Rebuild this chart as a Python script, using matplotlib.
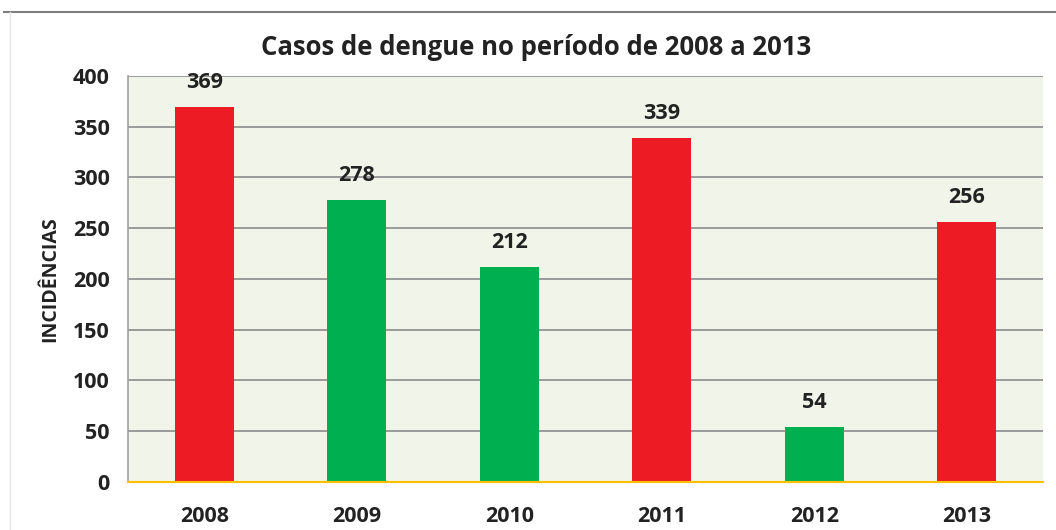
import matplotlib.pyplot as plt
from matplotlib.lines import Line2D

anos = ['2008', '2009', '2010', '2011', '2012', '2013']
casos = [369, 278, 212, 339, 54, 256]
cores = ['#ED1C24', '#00B050', '#00B050', '#ED1C24', '#00B050', '#ED1C24']

plt.rcParams['font.family'] = ['Open Sans', 'DejaVu Sans']

fig = plt.figure(figsize=(10.56, 5.3), dpi=100)
ax = fig.add_axes([0.1212, 0.0906, 0.8665, 0.766])
ax.set_facecolor('#F1F5E9')

x = range(len(anos))
bars = ax.bar(x, casos, width=0.39, color=cores, zorder=3)
for b, v in zip(bars, casos):
    ax.text(b.get_x() + b.get_width() / 2, v + 14, str(v), ha='center', va='bottom',
            fontsize=15.5, fontweight='bold', color='#222222', zorder=4)

ax.set_xlim(-0.5, len(anos) - 0.5)
ax.set_ylim(0, 400)
ax.set_yticks(range(0, 401, 50))
ax.set_xticks(list(x))
ax.set_xticklabels(anos)
ax.yaxis.grid(True, color='#8C8C8C', linewidth=1.2, zorder=0)
ax.tick_params(axis='both', length=0, labelsize=15.5, colors='#222222')
ax.tick_params(axis='x', pad=17)
ax.tick_params(axis='y', pad=13)
for lab in ax.get_xticklabels() + ax.get_yticklabels():
    lab.set_fontweight('bold')

for s in ['top', 'right']:
    ax.spines[s].set_visible(False)
ax.spines['left'].set_color('#A0A0A0')
ax.spines['left'].set_linewidth(1.2)
ax.spines['bottom'].set_color('#FFC000')
ax.spines['bottom'].set_linewidth(1.5)
ax.spines['bottom'].set_zorder(5)

ax.set_ylabel('INCIDÊNCIAS', fontsize=14, fontweight='bold', color='#222222', labelpad=9)
fig.text(0.508, 0.91, 'Casos de dengue no período de 2008 a 2013', ha='center', va='center',
         fontsize=18.5, fontweight='bold', color='#222222')

# moldura do gráfico
fig.add_artist(Line2D([0.004, 1.0], [0.977, 0.977], color='#7F7F7F', linewidth=1.5))
fig.add_artist(Line2D([0.009, 0.009], [0.0, 0.977], color='#E6E6E6', linewidth=1.0))

fig.savefig('out.png', dpi=100)
